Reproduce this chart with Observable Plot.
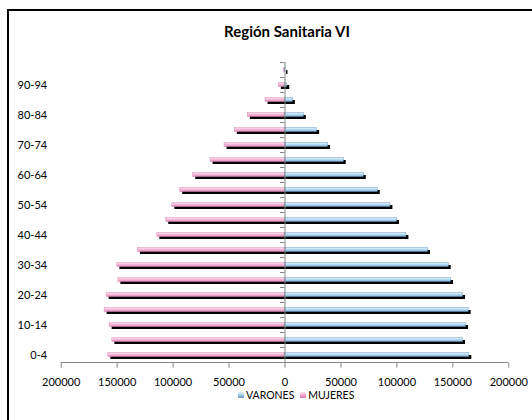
<!DOCTYPE html>
<html>
<head>
<meta charset="utf-8">
<script src="https://cdn.jsdelivr.net/npm/d3@7"></script>
<script src="https://cdn.jsdelivr.net/npm/@observablehq/plot@0.6"></script>
<style>
  html, body { margin: 0; padding: 0; background: #fff; }
  #wrap { position: relative; width: 532px; height: 420px; overflow: hidden; font-family: Lato, "Open Sans", sans-serif; }
  #border { position: absolute; left: 7px; top: 9px; width: 580px; height: 460px; border: 2px solid #000; box-sizing: border-box; }
  #title { position: absolute; top: 22px; left: 287px; transform: translateX(-50%); font-weight: bold; font-size: 15px; line-height: 18px; white-space: nowrap; color: #000; }
  #chart { position: absolute; top: 50px; left: 0; }
  #legend { position: absolute; top: 389px; left: 238px; font-size: 10.5px; line-height: 12px; color: #000; white-space: nowrap; }
  .sw { display: inline-block; width: 6px; height: 6px; margin-right: 2px; vertical-align: 1px; }
  .item { margin-right: 6px; }
</style>
</head>
<body>
<div id="wrap">
  <div id="border"></div>
  <div id="title">Región Sanitaria VI</div>
  <div id="chart"></div>
  <div id="legend"></div>
</div>
<script>
// Data
const ages = ["0-4","5-9","10-14","15-19","20-24","25-29","30-34","35-39","40-44","45-49",
              "50-54","55-59","60-64","65-69","70-74","75-79","80-84","85-89","90-94","95-99"];
const varones = [164700,159100,161800,164100,159100,148400,146300,127800,108500,100100,
                 94200,82900,70400,52500,38500,28700,16800,7000,2000,400];
const mujeres = [157900,154300,156700,161200,159400,148900,149800,131400,114100,106100,
                 100700,93600,82000,66500,54000,44800,33200,17400,5500,800];
const xTicks = [-200000,-150000,-100000,-50000,0,50000,100000,150000,200000];
const labelAges = ["0-4","10-14","20-24","30-34","40-44","50-54","60-64","70-74","80-84","90-94"];
const seriesNames = ["VARONES","MUJERES"];

const data = ages.map((a, i) => ({age: a, v: varones[i], m: mujeres[i]}));

const gray = "#868686";
const PINK = "#f0a9cf", BLUE = "#a9d3ef";
const inset = 5.5;

const plot = Plot.plot({
  width: 532,
  height: 336,
  marginLeft: 60.7,
  marginRight: 23.7,
  marginTop: 12,
  marginBottom: 23.3,
  x: {domain: [-200000, 200000], axis: null},
  y: {domain: ages.slice().reverse(), padding: 0, axis: null},
  style: {fontFamily: "Lato, 'Open Sans', sans-serif", fontSize: "11px", background: "transparent", overflow: "visible"},
  marks: [
    // shadows
    Plot.barX(data, {y: "age", x1: 0, x2: d => -d.m, insetTop: inset, insetBottom: inset, fill: "#000", dx: 2.5, dy: 2.5}),
    Plot.barX(data, {y: "age", x1: 0, x2: d => d.v, insetTop: inset, insetBottom: inset, fill: "#000", dx: 2.5, dy: 2.5}),
    // bars
    Plot.barX(data, {y: "age", x1: 0, x2: d => -d.m, insetTop: inset, insetBottom: inset, fill: PINK, stroke: "#d98ab6", strokeWidth: 0.5}),
    Plot.barX(data, {y: "age", x1: 0, x2: d => d.v, insetTop: inset, insetBottom: inset, fill: BLUE, stroke: "#6f98bd", strokeWidth: 0.5}),
    // vertical axis at 0
    Plot.ruleX([0], {stroke: gray, strokeWidth: 1}),
    // category boundary ticks
    Plot.ruleY(ages, {y: d => d, x1: -4000, x2: 0, dy: -7.5, stroke: gray}),
    // horizontal axis line
    Plot.ruleY(["0-4"], {y: d => d, x1: -200000, x2: 200000, dy: 7.5, stroke: gray}),
    Plot.axisX({ticks: xTicks, tickFormat: d => String(Math.abs(d)), tickSize: 5, tickPadding: 10, stroke: gray, fill: "#000", fontSize: 11}),
    // category labels
    Plot.text(labelAges, {y: d => d, x: () => -200000, dx: -14, textAnchor: "end", fill: "#000", fontSize: 11})
  ]
});

// gradients
const ns = "http://www.w3.org/2000/svg";
const defs = document.createElementNS(ns, "defs");
function grad(id, stops) {
  const g = document.createElementNS(ns, "linearGradient");
  g.setAttribute("id", id);
  g.setAttribute("x1", "0"); g.setAttribute("y1", "0"); g.setAttribute("x2", "0"); g.setAttribute("y2", "1");
  stops.forEach(([o, c]) => {
    const s = document.createElementNS(ns, "stop");
    s.setAttribute("offset", o); s.setAttribute("stop-color", c);
    g.appendChild(s);
  });
  defs.appendChild(g);
}
grad("gp", [[0, "#fde9f3"], [0.45, "#f5b9d8"], [1, "#e38cbc"]]);
grad("gb", [[0, "#eaf6fd"], [0.45, "#b8dcf3"], [1, "#7fb0d6"]]);
plot.insertBefore(defs, plot.firstChild);
plot.querySelectorAll(`[fill="${PINK}"]`).forEach(e => e.setAttribute("fill", "url(#gp)"));
plot.querySelectorAll(`[fill="${BLUE}"]`).forEach(e => e.setAttribute("fill", "url(#gb)"));

document.getElementById("chart").appendChild(plot);

// legend
const legend = document.getElementById("legend");
const swatches = ["linear-gradient(#eaf6fd,#9fcbec 50%,#6f98bd)", "linear-gradient(#fde9f3,#f0a9cf 50%,#d479ab)"];
seriesNames.forEach((name, i) => {
  const item = document.createElement("span");
  item.className = "item";
  const sw = document.createElement("span");
  sw.className = "sw";
  sw.style.background = swatches[i];
  item.appendChild(sw);
  item.appendChild(document.createTextNode(name));
  legend.appendChild(item);
});
</script>
</body>
</html>
